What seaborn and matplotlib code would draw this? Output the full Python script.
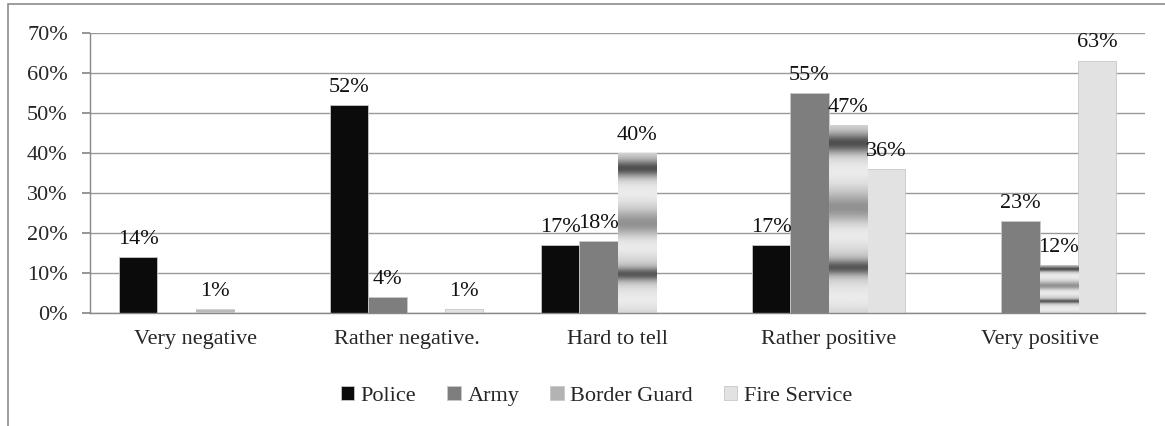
#!/usr/bin/env python3
"""Grouped bar chart: attitudes towards uniformed services."""

import numpy as np
import pandas as pd
import matplotlib.pyplot as plt
import seaborn as sns
from matplotlib.patches import Rectangle

sns.set_theme(style="white")
plt.rcParams['font.family'] = ['Liberation Serif', 'DejaVu Serif']

# Data (percent)
categories = ["Very negative", "Rather negative.", "Hard to tell", "Rather positive", "Very positive"]
services = ["Police", "Army", "Border Guard", "Fire Service"]
police = [14, 52, 17, 17, 0]
army = [0, 4, 18, 55, 23]
border_guard = [1, 0, 40, 47, 12]
fire_service = [0, 1, 0, 36, 63]

colors = ["#0b0b0b", "#7e7e7e", "#b3b3b3", "#e2e2e2"]
FS = 16

rows = []
for name, vals in zip(services, [police, army, border_guard, fire_service]):
    for cat, v in zip(categories, vals):
        rows.append({"category": cat, "service": name, "value": v})
df = pd.DataFrame(rows)

fig = plt.figure(figsize=(11.65, 4.26), dpi=100)
ax = fig.add_axes([0.0773, 0.265, 0.9056, 0.658])

sns.barplot(data=df, x="category", y="value", hue="service", order=categories,
            hue_order=services, palette=colors, saturation=1, width=0.725,
            edgecolor="#c8c8c8", linewidth=0.6, ax=ax)

# banded metallic texture on the Border Guard bars
t = np.linspace(0, 1, 200)
profile = 0.84 - 0.42 * np.exp(-((t - 0.24) / 0.04) ** 2) \
    - 0.2 * np.exp(-((t - 0.55) / 0.07) ** 2) \
    - 0.45 * np.exp(-((t - 0.9) / 0.05) ** 2) + 0.08 * np.sin(t * np.pi * 6)
profile = np.clip(profile, 0, 1)
for patch in ax.containers[2]:
    h = patch.get_height()
    if h > 0:
        x0 = patch.get_x()
        im = ax.imshow(profile[:, None], extent=[x0, x0 + patch.get_width(), 0, h],
                       origin="lower", aspect="auto", cmap="gray", vmin=0, vmax=1,
                       zorder=patch.get_zorder() + 0.1)
        im.set_clip_path(patch)

# value labels, skip zero bars
for cont, vals in zip(ax.containers, [police, army, border_guard, fire_service]):
    labels = [f"{v}%" if v > 0 else "" for v in vals]
    ax.bar_label(cont, labels=labels, padding=6, fontsize=FS, color="#111111")

ax.set_ylim(0, 70)
ax.set_yticks(range(0, 71, 10))
ax.set_yticklabels([f"{t}%" for t in range(0, 71, 10)], fontsize=FS)
ax.set_xlim(-0.5, len(categories) - 0.5)
ax.tick_params(axis="x", labelsize=FS, pad=12, length=0)
ax.set_xticks(np.arange(-0.5, len(categories)), minor=True)
ax.tick_params(axis="x", which="minor", length=6, color="#888888", direction="out")
ax.tick_params(axis="y", length=6, color="#888888", direction="out", left=True, pad=10)
ax.set_xlabel("")
ax.set_ylabel("")
ax.yaxis.grid(True, color="#9a9a9a", linewidth=1)
ax.set_axisbelow(True)
for side in ["top", "right"]:
    ax.spines[side].set_visible(False)
for side in ["left", "bottom"]:
    ax.spines[side].set_color("#888888")
    ax.spines[side].set_linewidth(1)

ax.legend(loc="upper center", bbox_to_anchor=(0.48, -0.19), ncol=4, frameon=False,
          fontsize=FS, handlelength=0.6, handleheight=0.6, columnspacing=1.4,
          handletextpad=0.3)

# outer chart frame
fig.patches.append(Rectangle((0.007, -0.05), 1.1, 1.04, transform=fig.transFigure,
                             fill=False, edgecolor="#8c8c8c", linewidth=1.2))

fig.savefig("out.png", dpi=100)
